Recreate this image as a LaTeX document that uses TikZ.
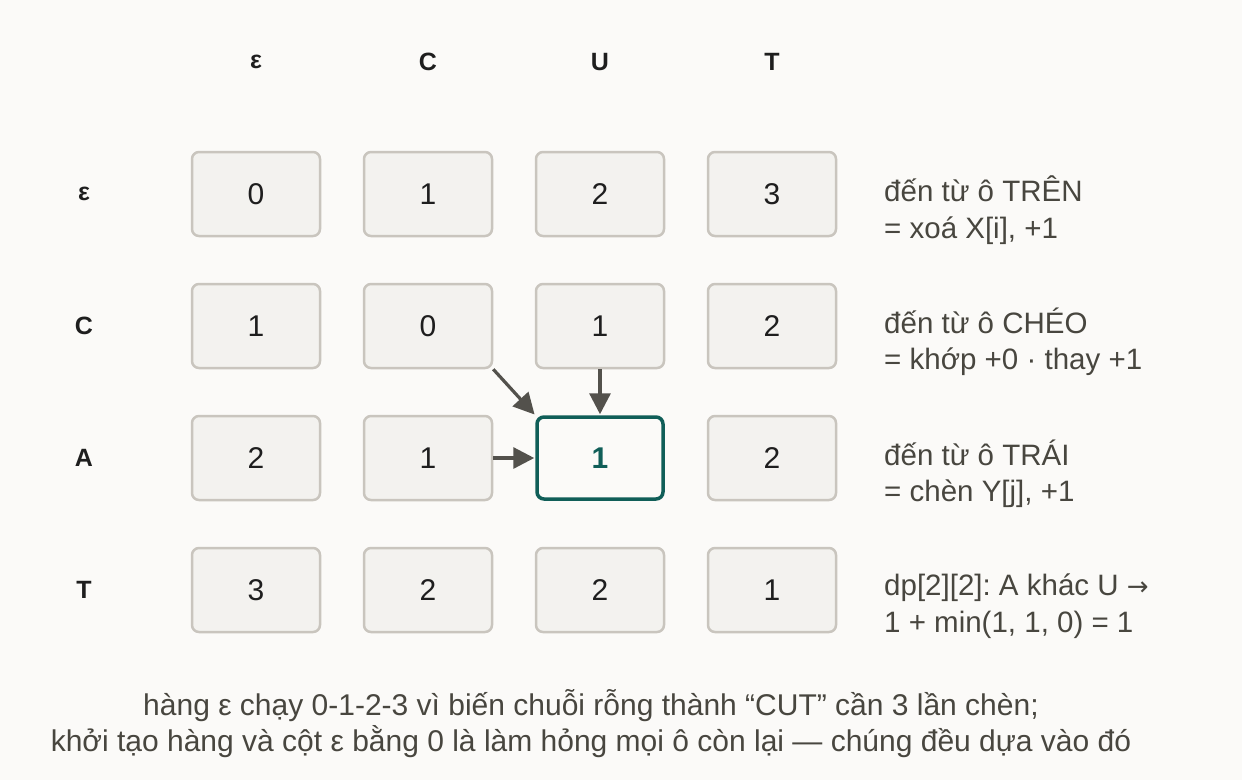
\documentclass[tikz,border=0pt]{standalone}
\usepackage{fontspec}
\setmainfont{Liberation Sans}
\newfontfamily\djv{DejaVu Sans}
\usetikzlibrary{arrows.meta}
\frenchspacing
\definecolor{bg}{HTML}{FBFAF8}
\definecolor{cellfill}{HTML}{F3F2EF}
\definecolor{celldraw}{HTML}{C9C5BE}
\definecolor{teal}{HTML}{105E58}
\definecolor{txt}{HTML}{48463F}
\definecolor{arr}{HTML}{53514C}
\definecolor{num}{HTML}{1E1E1E}
\tikzset{
  cellbox/.style={draw=celldraw, fill=cellfill, line width=2.5pt, rounded corners=7pt,
    minimum width=128pt, minimum height=84pt, inner sep=0pt, text=num,
    font=\fontsize{30}{30}\selectfont},
  hlbox/.style={draw=teal, fill=bg, line width=3.5pt, rounded corners=7pt,
    minimum width=126pt, minimum height=82pt, inner sep=0pt, text=teal,
    font=\fontsize{30}{30}\selectfont\bfseries},
  headlbl/.style={text=num, font=\fontsize{25}{25}\selectfont\bfseries, inner sep=0pt},
  note/.style={text=txt, align=left, anchor=west, inner sep=0pt,
    font=\fontsize{29.5}{36.5}\selectfont},
  foot/.style={text=txt, align=center, inner sep=0pt,
    font=\fontsize{30}{36}\selectfont},
  conn/.style={draw=arr, line width=3.2pt, -{Triangle[length=21pt,width=21pt]}, shorten >=1pt},
}
\begin{document}
\begin{tikzpicture}[x=1pt,y=-1pt]
\fill[bg] (0,0) rectangle (1242,780);
\useasboundingbox (0,0) rectangle (1242,780);
% column headers
\node[headlbl] (h0) at (256,62) {ε};
\node[headlbl] (h1) at (428,62) {C};
\node[headlbl] (h2) at (600,62) {U};
\node[headlbl] (h3) at (772,62) {T};
% row headers
\node[headlbl] (r0) at (84,194) {ε};
\node[headlbl] (r1) at (84,326) {C};
\node[headlbl] (r2) at (84,458) {A};
\node[headlbl] (r3) at (84,590) {T};
% row 0
\node[cellbox] (c00) at (256,194) {0};
\node[cellbox] (c01) at (428,194) {1};
\node[cellbox] (c02) at (600,194) {2};
\node[cellbox] (c03) at (772,194) {3};
% row 1
\node[cellbox] (c10) at (256,326) {1};
\node[cellbox] (c11) at (428,326) {0};
\node[cellbox] (c12) at (600,326) {1};
\node[cellbox] (c13) at (772,326) {2};
% row 2
\node[cellbox] (c20) at (256,458) {2};
\node[cellbox] (c21) at (428,458) {1};
\node[hlbox] (c22) at (600,458) {1};
\node[cellbox] (c23) at (772,458) {2};
% row 3
\node[cellbox] (c30) at (256,590) {3};
\node[cellbox] (c31) at (428,590) {2};
\node[cellbox] (c32) at (600,590) {2};
\node[cellbox] (c33) at (772,590) {1};
% arrows
\draw[conn] (c11.south east) -- (c22.north west);
\draw[conn] (c12.south) -- (c22.north);
\draw[conn] (c21.east) -- (c22.west);
% notes
\node[note] (n0) at (884,210) {đến từ ô TRÊN\\= xoá X[i], +1};
\node[note] (n1) at (884,342) {đến từ ô CHÉO\\= khớp +0 · thay +1};
\node[note] (n2) at (884,474) {đến từ ô TRÁI\\= chèn Y[j], +1};
\node[note] (n3) at (884,606) {dp[2][2]: A khác U {\djv\fontsize{26}{26}\selectfont →}\\1 + min(1, 1, 0) = 1};
% footer
\node[foot] (ft) at (591,724) {hàng ε chạy 0-1-2-3 vì biến chuỗi rỗng thành “CUT” cần 3 lần chèn;\\khởi tạo hàng và cột ε bằng 0 là làm hỏng mọi ô còn lại — chúng đều dựa vào đó};
\end{tikzpicture}
\end{document}
